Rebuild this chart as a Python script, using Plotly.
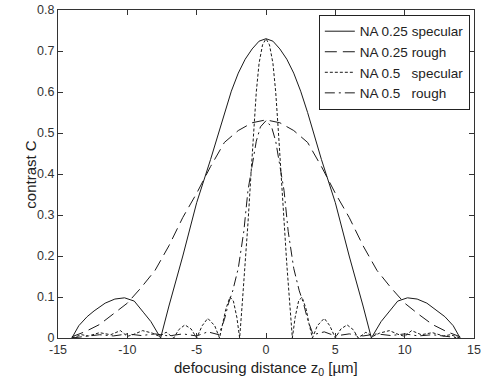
import plotly.graph_objects as go

# NA 0.25 specular (solid)
x_s25 = [-14.0, -13.5, -12.9, -12.4, -11.6, -10.9, -10.2, -9.5, -8.85, -8.3, -7.6,
         -7.0, -6.0, -5.0, -4.0, -3.5, -3.0, -2.5, -2.0, -1.5, -1.0, -0.5, 0.0,
         0.5, 1.0, 1.5, 2.0, 2.5, 3.0, 3.5, 4.0, 5.0, 6.0, 7.0, 7.6,
         8.3, 8.85, 9.5, 10.2, 10.9, 11.6, 12.4, 12.9, 13.5, 14.0]
y_s25 = [0.0, 0.03, 0.052, 0.066, 0.085, 0.095, 0.098, 0.09, 0.063, 0.04, 0.0,
         0.078, 0.2, 0.33, 0.435, 0.492, 0.55, 0.602, 0.646, 0.68, 0.705, 0.724, 0.73,
         0.724, 0.705, 0.68, 0.646, 0.602, 0.55, 0.492, 0.435, 0.33, 0.2, 0.078, 0.0,
         0.04, 0.063, 0.09, 0.098, 0.095, 0.085, 0.066, 0.052, 0.03, 0.0]

# NA 0.25 rough (long dash)
x_r25 = [-14.0, -13.0, -12.0, -11.0, -10.0, -9.0, -8.0, -7.0, -6.0, -5.0, -4.0, -3.0, -2.0, -1.0, 0.0,
         1.0, 2.0, 3.0, 4.0, 5.0, 6.0, 7.0, 8.0, 9.0, 10.0, 11.0, 12.0, 13.0, 14.0]
y_r25 = [0.003, 0.016, 0.033, 0.058, 0.085, 0.123, 0.165, 0.225, 0.294, 0.353, 0.418, 0.477, 0.506, 0.525, 0.532,
         0.525, 0.506, 0.477, 0.418, 0.353, 0.294, 0.225, 0.165, 0.123, 0.085, 0.058, 0.033, 0.016, 0.003]

# NA 0.5 specular (dotted), one half (mirrored below)
x_s50_half = [0.0, 0.25, 0.5, 0.7, 0.9, 1.1, 1.3, 1.5, 1.7, 1.9,
              2.1, 2.35, 2.6, 2.9, 3.1, 3.35,
              3.7, 4.2, 4.6, 5.0,
              5.4, 5.85, 6.3, 6.65,
              7.2, 7.7, 8.2, 8.9, 9.6, 10.0, 10.5, 11.2, 12.0, 12.8, 13.3, 14.0]
y_s50_half = [0.73, 0.715, 0.67, 0.60, 0.50, 0.39, 0.28, 0.18, 0.09, 0.0,
              0.05, 0.09, 0.10, 0.07, 0.035, 0.0,
              0.03, 0.048, 0.03, 0.0,
              0.022, 0.032, 0.02, 0.0,
              0.014, 0.004, 0.012, 0.018, 0.008, 0.004, 0.018, 0.008, 0.013, 0.005, 0.008, 0.0]

# NA 0.5 rough (dash-dot), one half (mirrored below)
x_r50_half = [0.0, 0.4, 0.7, 1.0, 1.3, 1.6, 2.0, 2.4, 2.7, 3.0, 3.4,
              4.2, 5.0, 6.0, 7.0, 8.0, 9.0, 10.0, 11.0, 12.0, 13.0, 14.0]
y_r50_half = [0.53, 0.515, 0.48, 0.42, 0.36, 0.26, 0.17, 0.115, 0.085, 0.045, 0.008,
              0.015, 0.005, 0.01, 0.005, 0.01, 0.006, 0.01, 0.005, 0.008, 0.004, 0.0]

x_s50 = [-v for v in x_s50_half[:0:-1]] + x_s50_half
y_s50 = y_s50_half[:0:-1] + y_s50_half
x_r50 = [-v for v in x_r50_half[:0:-1]] + x_r50_half
y_r50 = y_r50_half[:0:-1] + y_r50_half

names = ["NA 0.25 specular", "NA 0.25 rough",
         "NA 0.5\u00a0\u00a0\u00a0specular", "NA 0.5\u00a0\u00a0\u00a0rough"]
x_ticks = [-15, -10, -5, 0, 5, 10, 15]
y_ticks = [0, 0.1, 0.2, 0.3, 0.4, 0.5, 0.6, 0.7, 0.8]
y_ticktext = ["0", "0.1", "0.2", "0.3", "0.4", "0.5", "0.6", "0.7", "0.8"]

col = "#1a1a1a"
fig = go.Figure()
series = [(x_s25, y_s25, "solid"), (x_r25, y_r25, "12px,6px"),
          (x_s50, y_s50, "3px,2px"), (x_r50, y_r50, "10px,4px,2px,4px")]
for (xs, ys, dash), nm in zip(series, names):
    fig.add_trace(go.Scatter(x=xs, y=ys, mode="lines", name=nm,
                             line=dict(color=col, width=1, dash=dash)))

axis_common = dict(showgrid=False, zeroline=False, showline=True, linecolor="#333",
                   linewidth=1, mirror="ticks", ticks="inside", ticklen=5,
                   tickcolor="#333", tickfont=dict(size=12.5, color="#333"),
                   automargin=False)
fig.update_xaxes(range=[-15, 15], tickvals=x_ticks, ticktext=[str(v) for v in x_ticks],
                 **axis_common)
fig.update_yaxes(range=[0, 0.8], tickvals=y_ticks, ticktext=y_ticktext,
                 **axis_common)
fig.update_layout(
    template="none",
    width=485, height=381,
    margin=dict(l=58, r=11, t=10, b=43, autoexpand=False),
    paper_bgcolor="white", plot_bgcolor="white",
    font=dict(family="Liberation Sans, Arial, sans-serif", color="#222"),
    showlegend=True,
    legend=dict(x=0.99, y=0.985, xanchor="right", yanchor="top",
                bgcolor="white", bordercolor="#222", borderwidth=1,
                font=dict(size=13.5, color="#222"), tracegroupgap=0,
                itemwidth=30),
    annotations=[
        dict(text="defocusing distance z<sub>0</sub> [µm]", xref="paper", yref="paper",
             x=0.5, y=-0.092, xanchor="center", yanchor="middle", showarrow=False,
             font=dict(size=15, color="#222")),
        dict(text="contrast C", xref="paper", yref="paper", textangle=-90,
             x=-0.068, y=0.5, xanchor="center", yanchor="middle", showarrow=False,
             font=dict(size=15, color="#222")),
    ],
)
fig.write_html("out.html", config={"displayModeBar": False},
               post_script="document.body.style.margin='0';")
